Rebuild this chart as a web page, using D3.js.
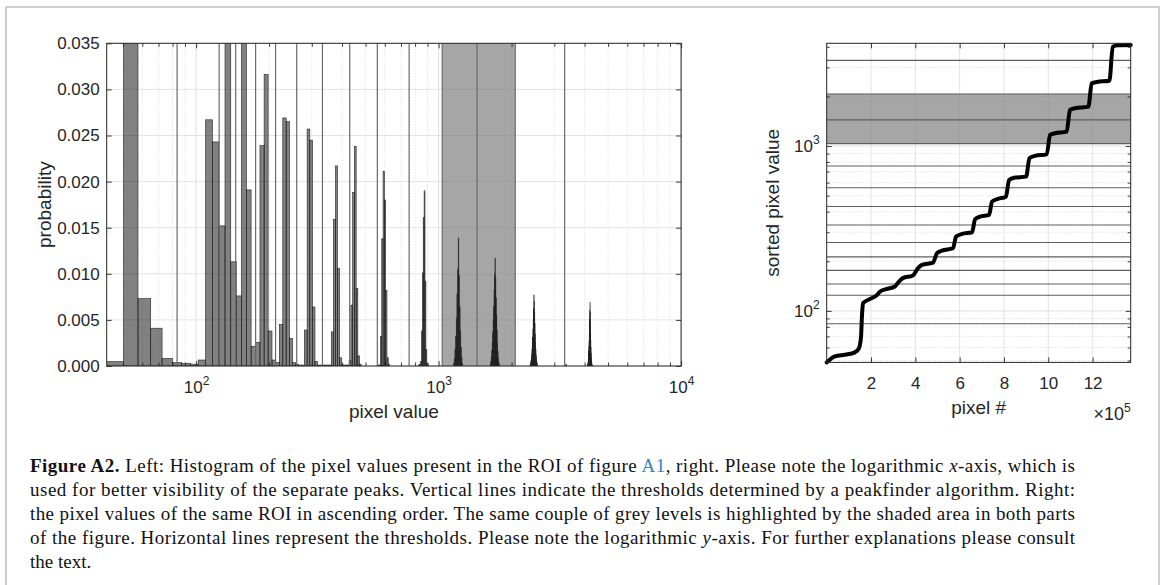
<!DOCTYPE html>
<html>
<head>
<meta charset="utf-8">
<script src="https://cdn.jsdelivr.net/npm/d3@7"></script>
<style>
  body { margin: 0; background: #fff; }
  svg { display: block; }
  .cap { font-family: "Liberation Serif", "Times New Roman", serif; font-size: 19px; fill: #111; }
</style>
</head>
<body>
<svg id="fig" width="1166" height="585"></svg>
<script>
// ---- histogram (left): fixed-width bins, stored as runs of consecutive bins
const binEdge0 = 42.8;
const binWidth = 7.4;
const runStart = [0, 70, 106, 150, 215, 316, 446, 550];
const runProb = [
  [0.00047, 0.1, 0.0073, 0.0041, 0.00083, 0.00036, 0.0003, 0.0002, 0.00065, 0.0267,
   0.0243, 0.0152, 0.052, 0.0113, 0.0076, 0.048, 0.0191, 0.00213, 0.00257, 0.0239,
   0.0316, 0.0038, 0.00065, 0.0004, 0.0045, 0.0269, 0.0265, 0.003, 0.00036, 0.0002,
   0.0001, 0.0001, 0.0039, 0.0257, 0.0245, 0.0064, 0.0005, 0.0001, 0.0001, 0.0001,
   0.0001, 0.0001, 0.0001, 0.0037, 0.0159, 0.0217, 0.0106, 0.0009, 0.0001, 0.0001,
   0.0001, 0.0001, 0.0006, 0.0066, 0.0188, 0.0238, 0.0084, 0.0011, 0.0002],
  [0.0001, 0.0001, 0.0032, 0.0138, 0.0211, 0.018, 0.0082, 0.0009, 0.0002],
  [0.0001, 0.0002, 0.0005, 0.0038, 0.0101, 0.0161, 0.019, 0.0092, 0.0018, 0.0003, 0.0001],
  [0.0003, 0.0008, 0.0018, 0.0032, 0.0052, 0.0078, 0.0105, 0.0139, 0.0098, 0.0064,
   0.0038, 0.002, 0.0009, 0.0003],
  [0.0002, 0.0005, 0.001, 0.0017, 0.0026, 0.0037, 0.005, 0.0065, 0.0082, 0.01,
   0.01168, 0.0095, 0.0074, 0.0055, 0.0039, 0.0026, 0.0016, 0.0009, 0.0004, 0.0002],
  [0.0001, 0.0002, 0.0004, 0.0006, 0.0009, 0.0013, 0.0018, 0.0024, 0.0031, 0.004,
   0.005, 0.0062, 0.0077, 0.007, 0.0058, 0.0046, 0.0035, 0.0026, 0.0018, 0.0012,
   0.0008, 0.0005, 0.0003, 0.0001],
  [0.0001, 0.0002, 0.0001],
  [0.0001, 0.0002, 0.0003, 0.0005, 0.0008, 0.0012, 0.0016, 0.0021, 0.0027, 0.0034,
   0.0042, 0.0051, 0.006, 0.00687, 0.0058, 0.0047, 0.0037, 0.0028, 0.002, 0.0014,
   0.0009, 0.0006, 0.0004, 0.0002, 0.0001, 0.0001]
];

// peakfinder thresholds (grey levels) and the highlighted pair
const thresholds = [83.5, 124.5, 145.7, 176, 212.7, 260, 332, 430, 559, 756, 1035, 1441, 2070, 3310];
const shadeRange = [1035, 2070];

const probTicks = [0, 0.005, 0.01, 0.015, 0.02, 0.025, 0.03, 0.035];
const pixelValueTicks = [100, 1000, 10000];

// ---- sorted pixel values (right), pixel index in units of 1e5
const sortedIdx = [0, 0.06, 0.37, 0.83, 1.27, 1.46, 1.55, 1.59, 1.64, 1.95,
  2.23, 2.41, 2.68, 3.08, 3.26, 3.44, 3.89, 4.12, 4.3, 4.8,
  4.98, 5.2, 5.7, 5.84, 6.11, 6.56, 6.7, 6.92, 7.33, 7.46,
  7.73, 8.09, 8.23, 8.46, 9.0, 9.15, 9.4, 9.93, 10.08, 10.3,
  10.83, 10.98, 11.2, 11.81, 11.96, 12.2, 12.76, 12.91, 13.15, 13.72];
const sortedVal = [48.7, 49.5, 52.9, 54.2, 56, 59.5, 70, 92.5, 111.5, 118,
  123.5, 131, 135.5, 140.6, 150.7, 158, 163.9, 181.7, 190.3, 196.5,
  224, 232, 240, 282.5, 293, 300, 360, 373, 382, 460,
  478, 493, 623, 643, 652.6, 843.6, 871, 891, 1167, 1196,
  1223, 1655, 1694, 1734, 2402, 2446, 2491, 4004, 4083, 4100];
const pixelNumTicks = [2, 4, 6, 8, 10, 12];
const sortedTicks = [100, 1000];

const axisColor = '#262626';
const fontSans = '"Liberation Sans", Arial, Helvetica, sans-serif';

const svg = d3.select('#fig');

// outer frame
svg.append('rect')
  .attr('x', 6).attr('y', 7).attr('width', 1153).attr('height', 620)
  .attr('fill', 'none').attr('stroke', '#c4c4c4').attr('stroke-width', 1.6);

function supLabels(g, dyPx) {
  g.selectAll('.tick text').each(function (d) {
    const t = d3.select(this).text(null);
    t.append('tspan').text('10');
    t.append('tspan').attr('dy', dyPx).attr('font-size', 12)
      .text(Math.round(Math.log10(d)));
  });
}

function styleAxis(g) {
  g.attr('font-size', 17).attr('font-family', fontSans).attr('color', axisColor);
  g.select('.domain').remove();
  g.selectAll('.tick line').attr('stroke-width', 0.9);
}

// ================= LEFT: histogram =================
const L = { x0: 106.7, x1: 681.1, y0: 43.3, y1: 366 };
const xL = d3.scaleLog().domain([binEdge0, 10000]).range([L.x0, L.x1]);
const yL = d3.scaleLinear().domain([0, 0.035]).range([L.y1, L.y0]);

svg.append('clipPath').attr('id', 'clipL')
  .append('rect').attr('x', L.x0).attr('y', L.y0)
  .attr('width', L.x1 - L.x0).attr('height', L.y1 - L.y0);

const left = svg.append('g');
const minorL = xL.ticks().filter(t => !pixelValueTicks.includes(t));

// grid
left.append('g').selectAll('line').data(minorL).join('line')
  .attr('x1', d => xL(d)).attr('x2', d => xL(d))
  .attr('y1', L.y0).attr('y2', L.y1)
  .attr('stroke', '#cfcfcf').attr('stroke-width', 0.8).attr('stroke-dasharray', '1,2');
left.append('g').selectAll('line').data(pixelValueTicks).join('line')
  .attr('x1', d => xL(d)).attr('x2', d => xL(d))
  .attr('y1', L.y0).attr('y2', L.y1)
  .attr('stroke', '#e0e0e0').attr('stroke-width', 1);
left.append('g').selectAll('line').data(probTicks).join('line')
  .attr('x1', L.x0).attr('x2', L.x1)
  .attr('y1', d => yL(d)).attr('y2', d => yL(d))
  .attr('stroke', '#e3e3e3').attr('stroke-width', 1);

// shaded pair of grey levels
left.append('rect')
  .attr('x', xL(shadeRange[0])).attr('width', xL(shadeRange[1]) - xL(shadeRange[0]))
  .attr('y', L.y0).attr('height', L.y1 - L.y0)
  .attr('fill', '#808080').attr('fill-opacity', 0.7);

// bars
const bins = runStart.flatMap((s, r) => runProb[r].map((p, i) => ({
  lo: binEdge0 + (s + i) * binWidth,
  hi: binEdge0 + (s + i + 1) * binWidth,
  p
})));

left.append('g').attr('clip-path', 'url(#clipL)')
  .selectAll('rect').data(bins).join('rect')
  .attr('x', d => xL(d.lo))
  .attr('width', d => xL(d.hi) - xL(d.lo))
  .attr('y', d => yL(d.p))
  .attr('height', d => yL(0) - yL(d.p))
  .attr('fill', '#1a1a1a').attr('fill-opacity', 0.55)
  .attr('stroke', '#222').attr('stroke-width', 0.6);

// thresholds
left.append('g').selectAll('line').data(thresholds).join('line')
  .attr('x1', d => xL(d)).attr('x2', d => xL(d))
  .attr('y1', L.y0).attr('y2', L.y1)
  .attr('stroke', '#6a6a6a').attr('stroke-width', 1.2);

// axes
left.append('g').attr('transform', `translate(0,${L.y1})`)
  .call(d3.axisBottom(xL).tickValues(pixelValueTicks).tickSize(-5).tickPadding(15))
  .call(styleAxis).call(g => supLabels(g, -8));
left.append('g').attr('transform', `translate(0,${L.y1})`)
  .call(d3.axisBottom(xL).tickValues(minorL).tickSize(-3.5).tickFormat(''))
  .call(styleAxis);
left.append('g').attr('transform', `translate(0,${L.y0})`)
  .call(d3.axisTop(xL).tickValues(pixelValueTicks).tickSize(-5).tickFormat(''))
  .call(styleAxis);
left.append('g').attr('transform', `translate(0,${L.y0})`)
  .call(d3.axisTop(xL).tickValues(minorL).tickSize(-3.5).tickFormat(''))
  .call(styleAxis);
left.append('g').attr('transform', `translate(${L.x0},0)`)
  .call(d3.axisLeft(yL).tickValues(probTicks).tickSize(-5).tickPadding(7).tickFormat(d3.format('.3f')))
  .call(styleAxis);
left.append('g').attr('transform', `translate(${L.x1},0)`)
  .call(d3.axisRight(yL).tickValues(probTicks).tickSize(-5).tickFormat(''))
  .call(styleAxis);

left.append('rect')
  .attr('x', L.x0).attr('y', L.y0).attr('width', L.x1 - L.x0).attr('height', L.y1 - L.y0)
  .attr('fill', 'none').attr('stroke', axisColor).attr('stroke-width', 1);

left.append('text')
  .attr('x', (L.x0 + L.x1) / 2).attr('y', 418)
  .attr('text-anchor', 'middle').attr('font-family', fontSans).attr('font-size', 19)
  .attr('fill', axisColor).text('pixel value');
left.append('text')
  .attr('transform', `translate(51,${(L.y0 + L.y1) / 2}) rotate(-90)`)
  .attr('text-anchor', 'middle').attr('font-family', fontSans).attr('font-size', 19)
  .attr('fill', axisColor).text('probability');

// ================= RIGHT: sorted pixel values =================
const R = { x0: 826.7, x1: 1130.7, y0: 43.3, y1: 362.4 };
const xR = d3.scaleLinear().domain([0, 13.72]).range([R.x0, R.x1]);
const yR = d3.scaleLog().domain([48.7, 4200]).range([R.y1, R.y0]);

const right = svg.append('g');
const minorR = yR.ticks().filter(t => !sortedTicks.includes(t));

right.append('g').selectAll('line').data(minorR).join('line')
  .attr('x1', R.x0).attr('x2', R.x1)
  .attr('y1', d => yR(d)).attr('y2', d => yR(d))
  .attr('stroke', '#cfcfcf').attr('stroke-width', 0.8).attr('stroke-dasharray', '1,2');
right.append('g').selectAll('line').data(sortedTicks).join('line')
  .attr('x1', R.x0).attr('x2', R.x1)
  .attr('y1', d => yR(d)).attr('y2', d => yR(d))
  .attr('stroke', '#e0e0e0').attr('stroke-width', 1);
right.append('g').selectAll('line').data(pixelNumTicks).join('line')
  .attr('x1', d => xR(d)).attr('x2', d => xR(d))
  .attr('y1', R.y0).attr('y2', R.y1)
  .attr('stroke', '#e3e3e3').attr('stroke-width', 1);

right.append('rect')
  .attr('x', R.x0).attr('width', R.x1 - R.x0)
  .attr('y', yR(shadeRange[1])).attr('height', yR(shadeRange[0]) - yR(shadeRange[1]))
  .attr('fill', '#808080').attr('fill-opacity', 0.7);

right.append('g').selectAll('line').data(thresholds).join('line')
  .attr('x1', R.x0).attr('x2', R.x1)
  .attr('y1', d => yR(d)).attr('y2', d => yR(d))
  .attr('stroke', '#5e5e5e').attr('stroke-width', 1.1);

const sorted = sortedIdx.map((i, k) => ({ i, v: sortedVal[k] }));
right.append('path')
  .datum(sorted)
  .attr('d', d3.line().x(d => xR(d.i)).y(d => yR(d.v)).curve(d3.curveMonotoneX))
  .attr('fill', 'none').attr('stroke', '#000').attr('stroke-width', 4)
  .attr('stroke-linejoin', 'round').attr('stroke-linecap', 'round');

right.append('g').attr('transform', `translate(0,${R.y1})`)
  .call(d3.axisBottom(xR).tickValues(pixelNumTicks).tickSize(-5).tickPadding(14.5))
  .call(styleAxis);
right.append('g').attr('transform', `translate(0,${R.y0})`)
  .call(d3.axisTop(xR).tickValues(pixelNumTicks).tickSize(-5).tickFormat(''))
  .call(styleAxis);
right.append('g').attr('transform', `translate(${R.x0},0)`)
  .call(d3.axisLeft(yR).tickValues(sortedTicks).tickSize(-5).tickPadding(7))
  .call(styleAxis).call(g => supLabels(g, -7.5));
right.append('g').attr('transform', `translate(${R.x0},0)`)
  .call(d3.axisLeft(yR).tickValues(minorR).tickSize(-3).tickFormat(''))
  .call(styleAxis);
right.append('g').attr('transform', `translate(${R.x1},0)`)
  .call(d3.axisRight(yR).tickValues(sortedTicks).tickSize(-5).tickFormat(''))
  .call(styleAxis);
right.append('g').attr('transform', `translate(${R.x1},0)`)
  .call(d3.axisRight(yR).tickValues(minorR).tickSize(-3).tickFormat(''))
  .call(styleAxis);

right.append('rect')
  .attr('x', R.x0).attr('y', R.y0).attr('width', R.x1 - R.x0).attr('height', R.y1 - R.y0)
  .attr('fill', 'none').attr('stroke', axisColor).attr('stroke-width', 1);

right.append('text')
  .attr('x', (R.x0 + R.x1) / 2).attr('y', 414)
  .attr('text-anchor', 'middle').attr('font-family', fontSans).attr('font-size', 19)
  .attr('fill', axisColor).text('pixel #');
const mult = right.append('text')
  .attr('x', R.x1).attr('y', 420)
  .attr('text-anchor', 'end').attr('font-family', fontSans).attr('font-size', 18)
  .attr('fill', axisColor);
mult.append('tspan').text('\u00d710');
mult.append('tspan').attr('dy', -8).attr('font-size', 12).text('5');
right.append('text')
  .attr('transform', `translate(779,${(R.y0 + R.y1) / 2}) rotate(-90)`)
  .attr('text-anchor', 'middle').attr('font-family', fontSans).attr('font-size', 19)
  .attr('fill', axisColor).text('sorted pixel value');

// ================= caption =================
const capLines = [
  [['b', 'Figure A2.'], ['', ' Left: Histogram of the pixel values present in the ROI of figure '], ['link', 'A1'],
   ['', ', right. Please note the logarithmic '], ['i', 'x'], ['', '-axis, which is']],
  [['', 'used for better visibility of the separate peaks. Vertical lines indicate the thresholds determined by a peakfinder algorithm. Right:']],
  [['', 'the pixel values of the same ROI in ascending order. The same couple of grey levels is highlighted by the shaded area in both parts']],
  [['', 'of the figure. Horizontal lines represent the thresholds. Please note the logarithmic '], ['i', 'y'],
   ['', '-axis. For further explanations please consult']],
  [['', 'the text.']]
];
const cap = svg.append('g');
capLines.forEach((parts, li) => {
  const t = cap.append('text').attr('class', 'cap')
    .attr('x', 30).attr('y', 472 + li * 23.9);
  if (li < capLines.length - 1) t.attr('textLength', 1045).attr('lengthAdjust', 'spacing');
  parts.forEach(([kind, s]) => {
    const sp = t.append('tspan').text(s);
    if (kind === 'b') sp.attr('font-weight', 'bold');
    if (kind === 'i') sp.attr('font-style', 'italic');
    if (kind === 'link') sp.attr('fill', '#2f86c3');
  });
});
</script>
</body>
</html>
